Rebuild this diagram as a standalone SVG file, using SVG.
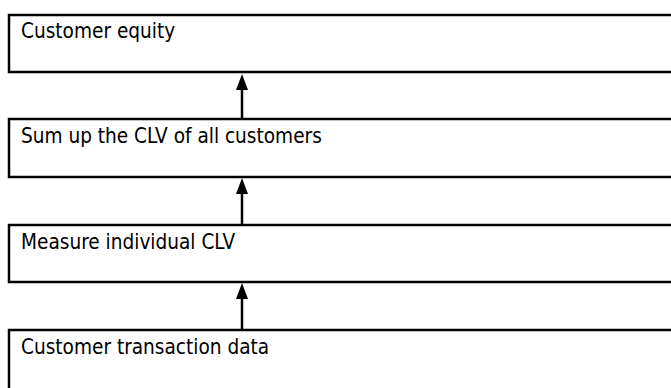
<svg xmlns="http://www.w3.org/2000/svg" width="671" height="388" viewBox="0 0 671 388">
<style>
.box{fill:#fff;stroke:#000;stroke-width:2.5}
.lbl{font-family:"DejaVu Sans Condensed","DejaVu Sans","Liberation Sans",sans-serif;font-stretch:condensed;font-size:20.6px;fill:#000}
.edge{stroke:#000;stroke-width:2.5;fill:none}
.head{fill:#000}
</style>
<rect width="671" height="388" fill="#fff"/>
<g id="n1"><rect class="box" x="9" y="15" width="680" height="57"/><text class="lbl" x="21" y="38">Customer equity</text></g>
<g id="n2"><rect class="box" x="9" y="119" width="680" height="58"/><text class="lbl" x="21" y="143">Sum up the CLV of all customers</text></g>
<g id="n3"><rect class="box" x="9" y="225" width="680" height="57"/><text class="lbl" x="21" y="249">Measure individual CLV</text></g>
<g id="n4"><rect class="box" x="9" y="330" width="680" height="80"/><text class="lbl" x="21" y="354">Customer transaction data</text></g>
<g id="connectors">
<path class="edge" d="M242 118 L242 89"/><path class="head" d="M242 74 L248 90 L236 90 Z"/>
<path class="edge" d="M242 224 L242 193"/><path class="head" d="M242 178 L248 194 L236 194 Z"/>
<path class="edge" d="M242 329 L242 298"/><path class="head" d="M242 283 L248 299 L236 299 Z"/>
</g>
</svg>
